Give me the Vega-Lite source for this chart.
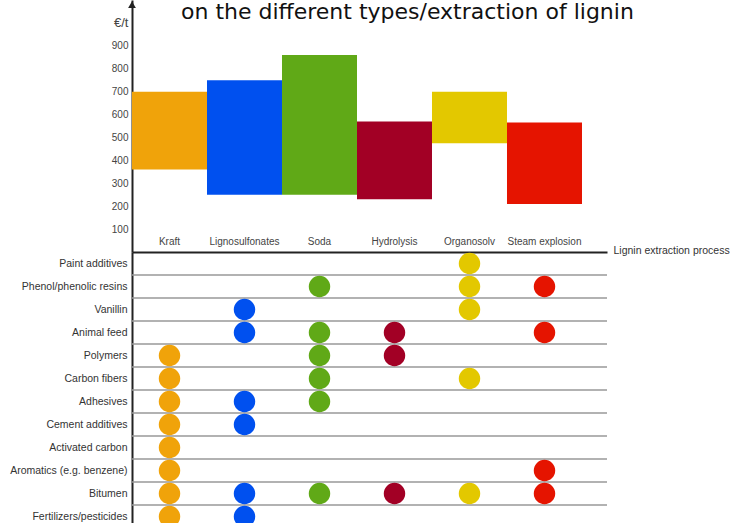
{
  "$schema": "https://vega.github.io/schema/vega-lite/v6.json",
  "autosize": {"type": "pad"},
  "padding": {"left": 9, "top": 0, "right": 0, "bottom": 0},
  "background": "white",
  "bounds": "flush",
  "title": {"text": "on the different types/extraction of lignin", "font": "DejaVu Sans", "fontSize": 22, "fontWeight": "normal", "color": "#111", "anchor": "middle", "dx": 38, "dy": 28},
  "config": {"view": {"stroke": null}, "font": "Liberation Sans"},
  "spacing": 0,
  "datasets": {
    "bars": [
      {"process": "Kraft", "low": 360, "high": 700},
      {"process": "Lignosulfonates", "low": 250, "high": 750},
      {"process": "Soda", "low": 250, "high": 860},
      {"process": "Hydrolysis", "low": 230, "high": 570},
      {"process": "Organosolv", "low": 475, "high": 700},
      {"process": "Steam explosion", "low": 210, "high": 565}
    ],
    "axisEnd": [{"process": "Kraft", "value": 1080}],
    "rows": [
      {"app": "Paint additives"}, {"app": "Phenol/phenolic resins"}, {"app": "Vanillin"}, {"app": "Animal feed"},
      {"app": "Polymers"}, {"app": "Carbon fibers"}, {"app": "Adhesives"}, {"app": "Cement additives"},
      {"app": "Activated carbon"}, {"app": "Aromatics (e.g. benzene)"}, {"app": "Bitumen"}, {"app": "Fertilizers/pesticides"}
    ],
    "dots": [
      {"app": "Paint additives", "process": "Organosolv"},
      {"app": "Phenol/phenolic resins", "process": "Soda"},
      {"app": "Phenol/phenolic resins", "process": "Organosolv"},
      {"app": "Phenol/phenolic resins", "process": "Steam explosion"},
      {"app": "Vanillin", "process": "Lignosulfonates"},
      {"app": "Vanillin", "process": "Organosolv"},
      {"app": "Animal feed", "process": "Lignosulfonates"},
      {"app": "Animal feed", "process": "Soda"},
      {"app": "Animal feed", "process": "Hydrolysis"},
      {"app": "Animal feed", "process": "Steam explosion"},
      {"app": "Polymers", "process": "Kraft"},
      {"app": "Polymers", "process": "Soda"},
      {"app": "Polymers", "process": "Hydrolysis"},
      {"app": "Carbon fibers", "process": "Kraft"},
      {"app": "Carbon fibers", "process": "Soda"},
      {"app": "Carbon fibers", "process": "Organosolv"},
      {"app": "Adhesives", "process": "Kraft"},
      {"app": "Adhesives", "process": "Lignosulfonates"},
      {"app": "Adhesives", "process": "Soda"},
      {"app": "Cement additives", "process": "Kraft"},
      {"app": "Cement additives", "process": "Lignosulfonates"},
      {"app": "Activated carbon", "process": "Kraft"},
      {"app": "Aromatics (e.g. benzene)", "process": "Kraft"},
      {"app": "Aromatics (e.g. benzene)", "process": "Steam explosion"},
      {"app": "Bitumen", "process": "Kraft"},
      {"app": "Bitumen", "process": "Lignosulfonates"},
      {"app": "Bitumen", "process": "Soda"},
      {"app": "Bitumen", "process": "Hydrolysis"},
      {"app": "Bitumen", "process": "Organosolv"},
      {"app": "Bitumen", "process": "Steam explosion"},
      {"app": "Fertilizers/pesticides", "process": "Kraft"},
      {"app": "Fertilizers/pesticides", "process": "Lignosulfonates"}
    ]
  },
  "vconcat": [
    {
      "width": 475,
      "height": 252,
      "layer": [
        {
          "data": {"name": "bars"},
          "mark": {"type": "bar"},
          "encoding": {
            "x": {"field": "process", "type": "nominal", "sort": null,
              "scale": {"type": "band", "domain": ["Kraft", "Lignosulfonates", "Soda", "Hydrolysis", "Organosolv", "Steam explosion"], "paddingInner": 0, "paddingOuter": 0.1667, "align": 0},
              "axis": {"orient": "bottom", "title": "Lignin extraction process", "titleX": 481, "titleY": -2, "titleAlign": "left", "titleBaseline": "middle", "titleFontWeight": "normal", "titleFontSize": 10.5, "titleColor": "#333", "titleFont": "Liberation Sans",
                "labelAngle": 0, "labelBaseline": "bottom", "labelPadding": -6, "ticks": false, "tickSize": 0, "domainColor": "#222", "domainWidth": 2, "labelFontSize": 10, "labelColor": "#444", "grid": false}},
            "y": {"field": "low", "type": "quantitative", "scale": {"domain": [0, 1100], "nice": false},
              "axis": {"values": [100, 200, 300, 400, 500, 600, 700, 800, 900, 1000], "labelOverlap": false, "labelExpr": "datum.value == 1000 ? '€/t' : datum.label", "title": null, "ticks": false, "domainColor": "#222", "domainWidth": 2, "labelColor": "#444", "labelFontSize": {"condition": {"test": "datum.value == 1000", "value": 13}, "value": 10}, "labelPadding": 4, "grid": false}},
            "y2": {"field": "high"},
            "color": {"field": "process", "type": "nominal",
              "scale": {"domain": ["Kraft", "Lignosulfonates", "Soda", "Hydrolysis", "Organosolv", "Steam explosion"], "range": ["#F0A30A", "#0050EF", "#60A917", "#A20025", "#E3C800", "#E51400"]},
              "legend": null}
          }
        },
        {
          "data": {"name": "axisEnd"},
          "mark": {"type": "point", "shape": "triangle-up", "filled": true, "size": 60, "color": "#222", "opacity": 1},
          "encoding": {
            "x": {"field": "process", "type": "nominal", "bandPosition": 0},
            "y": {"field": "value", "type": "quantitative",
              "axis": {"values": [100, 200, 300, 400, 500, 600, 700, 800, 900, 1000], "labelOverlap": false, "labelExpr": "datum.value == 1000 ? '€/t' : datum.label", "title": null, "ticks": false, "domainColor": "#222", "domainWidth": 2, "labelColor": "#444", "labelFontSize": {"condition": {"test": "datum.value == 1000", "value": 13}, "value": 10}, "labelPadding": 4, "grid": false}}
          }
        }
      ]
    },
    {
      "width": 475,
      "height": 276,
      "layer": [
        {
          "data": {"name": "rows"},
          "mark": {"type": "rule", "yOffset": 11.5, "color": "#999", "strokeWidth": 1.5},
          "encoding": {
            "y": {"field": "app", "type": "nominal", "sort": null,
              "scale": {"type": "band", "paddingInner": 0, "paddingOuter": 0},
              "axis": {"title": null, "ticks": false, "domainColor": "#222", "domainWidth": 2, "labelFontSize": 10.5, "labelColor": "#333", "labelPadding": 5, "grid": false, "labelLimit": 200}}
          }
        },
        {
          "data": {"name": "dots"},
          "mark": {"type": "circle", "size": 460, "opacity": 1},
          "encoding": {
            "x": {"field": "process", "type": "nominal", "sort": null,
              "scale": {"type": "band", "domain": ["Kraft", "Lignosulfonates", "Soda", "Hydrolysis", "Organosolv", "Steam explosion"], "paddingInner": 0, "paddingOuter": 0.1667, "align": 0},
              "axis": null},
            "y": {"field": "app", "type": "nominal", "sort": null},
            "color": {"field": "process", "type": "nominal",
              "scale": {"domain": ["Kraft", "Lignosulfonates", "Soda", "Hydrolysis", "Organosolv", "Steam explosion"], "range": ["#F0A30A", "#0050EF", "#60A917", "#A20025", "#E3C800", "#E51400"]},
              "legend": null}
          }
        }
      ]
    }
  ]
}
